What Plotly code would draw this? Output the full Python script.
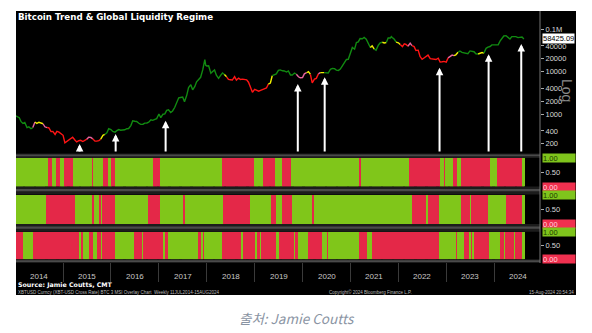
import math
import pandas as pd
import plotly.graph_objects as go

W, H = 592, 333

# ---------------- data ----------------
price_dates = [
    "2014-01-06","2014-01-15","2014-02-01","2014-02-15","2014-03-01","2014-03-15","2014-04-01","2014-04-15",
    "2014-05-01","2014-05-15","2014-06-01","2014-06-15","2014-07-01","2014-07-15","2014-08-01","2014-08-15",
    "2014-09-01","2014-09-15","2014-10-01","2014-10-15","2014-11-01","2014-11-15","2014-12-01","2014-12-15",
    "2015-01-01","2015-01-15","2015-02-01","2015-02-15","2015-03-01","2015-03-15","2015-04-01","2015-04-15",
    "2015-05-01","2015-05-15","2015-06-01","2015-06-15","2015-07-01","2015-07-15","2015-08-01","2015-08-15",
    "2015-09-01","2015-09-15","2015-10-01","2015-10-15","2015-11-01","2015-11-15","2015-12-01","2015-12-15",
    "2016-01-01","2016-01-15","2016-02-01","2016-02-15","2016-03-01","2016-03-15","2016-04-01","2016-04-15",
    "2016-05-01","2016-05-15","2016-06-01","2016-06-15","2016-07-01","2016-07-15","2016-08-01","2016-08-15",
    "2016-09-01","2016-09-15","2016-10-01","2016-10-15","2016-11-01","2016-11-15","2016-12-01","2016-12-15",
    "2017-01-01","2017-01-15","2017-02-01","2017-02-15","2017-03-01","2017-03-15","2017-04-01","2017-04-15",
    "2017-05-01","2017-05-15","2017-06-01","2017-06-15","2017-07-01","2017-07-15","2017-08-01","2017-08-15",
    "2017-09-01","2017-09-15","2017-10-01","2017-10-15","2017-11-01","2017-11-15","2017-12-01","2017-12-17",
    "2017-12-24",
    "2018-01-01","2018-01-15","2018-02-01","2018-02-15","2018-03-01","2018-03-15","2018-04-01","2018-04-15",
    "2018-05-01","2018-05-15","2018-06-01","2018-06-15","2018-07-01","2018-07-15","2018-08-01","2018-08-15",
    "2018-09-01","2018-09-15","2018-10-01","2018-10-15","2018-11-01","2018-11-15","2018-12-01","2018-12-15",
    "2019-01-01","2019-01-15","2019-02-01","2019-02-15","2019-03-01","2019-03-15","2019-04-01","2019-04-15",
    "2019-05-01","2019-05-15","2019-06-01","2019-06-15","2019-07-01","2019-07-15","2019-08-01","2019-08-15",
    "2019-09-01","2019-09-15","2019-10-01","2019-10-15","2019-11-01","2019-11-15","2019-12-01","2019-12-15",
    "2020-01-01","2020-01-15","2020-02-01","2020-02-15","2020-03-01","2020-03-15","2020-04-01","2020-04-15",
    "2020-05-01","2020-05-15","2020-06-01","2020-06-15","2020-07-01","2020-07-15","2020-08-01","2020-08-15",
    "2020-09-01","2020-09-15","2020-10-01","2020-10-15","2020-11-01","2020-11-15","2020-12-01","2020-12-15",
    "2021-01-01","2021-01-15","2021-02-01","2021-02-15","2021-03-01","2021-03-15","2021-04-01","2021-04-15",
    "2021-05-01","2021-05-15","2021-06-01","2021-06-15","2021-07-01","2021-07-15","2021-08-01","2021-08-15",
    "2021-09-01","2021-09-15","2021-10-01","2021-10-15","2021-11-01","2021-11-08","2021-11-15","2021-12-01",
    "2021-12-15",
    "2022-01-01","2022-01-15","2022-02-01","2022-02-15","2022-03-01","2022-03-15","2022-04-01","2022-04-15",
    "2022-05-01","2022-05-15","2022-06-01","2022-06-15","2022-07-01","2022-07-15","2022-08-01","2022-08-15",
    "2022-09-01","2022-09-15","2022-10-01","2022-10-15","2022-11-01","2022-11-15","2022-12-01","2022-12-15",
    "2023-01-01","2023-01-15","2023-02-01","2023-02-15","2023-03-01","2023-03-15","2023-04-01","2023-04-15",
    "2023-05-01","2023-05-15","2023-06-01","2023-06-15","2023-07-01","2023-07-15","2023-08-01","2023-08-15",
    "2023-09-01","2023-09-15","2023-10-01","2023-10-15","2023-11-01","2023-11-15","2023-12-01","2023-12-15",
    "2024-01-01","2024-01-15","2024-02-01","2024-02-15","2024-03-01","2024-03-15","2024-04-01","2024-04-15",
    "2024-05-01","2024-05-15","2024-06-01","2024-06-15","2024-07-01","2024-07-15","2024-08-01","2024-08-15",
]
price_values = [
    900, 870, 820, 660, 600, 630, 480, 500, 450, 480, 650, 600, 640, 620, 590, 500,
    480, 470, 385, 390, 330, 390, 375, 350,
    315, 210, 230, 240, 260, 285, 245, 220, 235, 240, 225, 240, 255, 285, 280, 260,
    230, 230, 237, 255, 315, 330, 360, 450,
    430, 390, 375, 405, 430, 415, 415, 425, 450, 455, 535, 690, 675, 665, 605, 570,
    575, 610, 615, 640, 730, 710, 750, 780,
    1000, 820, 990, 1010, 1220, 1250, 1080, 1180, 1420, 1750, 2400, 2450, 2500, 1950, 2750, 4200,
    4900, 3700, 4400, 5700, 6700, 7300, 10900, 19100,
    14000,
    13500, 13600, 9100, 10000, 10900, 8200, 6900, 8000, 9200, 8500, 7500, 6500, 6400, 6300, 7600, 6300,
    7000, 6500, 6600, 6600, 6350, 5600, 4000, 3250,
    3800, 3600, 3450, 3600, 3820, 3900, 4100, 5050, 5350, 7950, 8550, 8800, 10600, 10900, 10400, 10300,
    9700, 10300, 8300, 8300, 9200, 8600, 7500, 7100,
    7200, 8800, 9350, 9900, 8600, 5400, 6600, 6900, 8800, 9400, 9500, 9400, 9150, 9200, 11300, 11800,
    11700, 10800, 10600, 11400, 13800, 16000, 19200, 19400,
    29300, 36800, 33500, 47900, 49600, 59400, 58800, 63200, 57800, 46400, 36700, 40100, 33600, 31800, 41600, 47100,
    48800, 47100, 48200, 61500, 61300, 66000, 63000, 57200,
    48900,
    47300, 43100, 38500, 44500, 43200, 39300, 46300, 40500, 38500, 31300, 31800, 22500, 19300, 20800, 23300, 24300,
    20000, 19700, 19300, 19100, 20500, 16700, 17000, 17300,
    16600, 20900, 23100, 24300, 23600, 24700, 28400, 30400, 28100, 27200, 27200, 26300, 30500, 30300, 29200, 26100,
    25800, 26500, 27900, 27100, 35100, 37400, 38700, 42300,
    42600, 41700, 42600, 52000, 62400, 68400, 69700, 63400, 58300, 66200, 67700, 66200, 62700, 64700, 64600, 58425.09,
]

# trend colour of the price line (G green, R red, Y yellow, P pink) from each date on
trend_dates = ["2014-01-01","2014-05-08","2014-06-01","2014-08-01","2014-08-31","2015-07-01","2015-08-09",
               "2015-10-09","2015-11-08","2018-05-03","2018-05-27","2019-04-12","2019-05-13","2019-11-03",
               "2020-01-19","2020-02-19","2020-04-20","2020-05-12","2020-06-05","2021-05-28","2021-06-28",
               "2021-08-20","2021-09-21","2021-12-13","2022-01-13","2022-03-14","2022-04-15","2023-01-06",
               "2023-02-21","2023-03-23","2023-08-30","2023-10-07"]
trend_codes = ["G","P","Y","P","R","P","R","Y","G","Y","R","Y","G","P","Y","R","P","Y","G","Y","G",
               "Y","G","Y","R","P","R","P","Y","G","Y","G"]

# liquidity regimes (1 = green, 0 = red), state from each start date on
regime_end = "2024-08-19"
regime1_starts = ["2014-01-06","2014-09-07","2014-10-08","2014-11-07","2014-12-15","2015-01-08","2015-03-17",
                  "2015-08-09","2015-08-24","2015-11-01","2015-12-08","2016-01-01","2016-01-31","2016-11-15",
                  "2017-01-16","2018-04-25","2018-12-26","2019-03-05","2019-06-05","2019-08-04","2019-10-04",
                  "2021-03-06","2021-03-22","2022-03-23","2022-11-21","2022-12-14","2022-12-22","2023-02-21",
                  "2023-03-23","2023-04-22","2023-11-29","2024-01-29","2024-07-31"]
regime1_states = [1,0,1,0,1,0,1,0,1,0,1,0,1,0,1,0,1,0,1,0,1,0,1,0,1,0,1,0,1,0,1,0,1]

regime2_starts = ["2014-01-06","2014-08-23","2015-04-01","2015-08-17","2015-08-26","2015-10-01","2015-10-16",
                  "2015-10-24","2016-01-31","2016-07-16","2016-07-24","2016-10-16","2017-01-16","2017-07-09",
                  "2017-07-24","2018-05-03","2018-12-03","2019-05-13","2019-06-12","2019-08-04","2019-10-12",
                  "2020-03-13","2020-03-28","2022-04-15","2022-07-30","2022-08-22","2022-11-13","2023-04-30",
                  "2023-06-30","2023-07-07","2023-11-14","2024-04-07","2024-07-31"]
regime2_states = [1,0,1,0,1,0,1,0,1,0,1,0,1,0,1,0,1,0,1,0,1,0,1,0,1,0,1,0,1,0,1,0,1]

regime3_starts = ["2014-01-06","2014-03-01","2014-05-16","2015-05-01","2015-05-24","2015-06-08","2015-07-17",
                  "2015-08-24","2015-09-16","2015-10-16","2015-10-24","2016-02-08","2016-06-24","2016-08-24",
                  "2016-09-01","2017-01-31","2017-02-15","2017-03-10","2017-10-25","2017-11-17","2017-12-02",
                  "2017-12-17","2018-04-25","2018-09-18","2018-10-03","2019-01-03","2019-01-18","2019-02-10",
                  "2019-02-25","2019-06-12","2019-07-05","2019-10-27","2019-11-11","2019-11-26","2020-02-11",
                  "2020-05-27","2020-07-12","2020-07-20","2021-03-06","2021-05-06","2021-06-13","2022-11-13",
                  "2023-03-16","2023-03-23","2023-05-16","2023-06-23","2023-07-08","2023-07-15","2023-08-07",
                  "2023-11-22","2024-02-14","2024-03-16","2024-03-23","2024-05-31","2024-06-07","2024-07-31"]
regime3_states = [0,1,0,1,0,1,0,1,0,1,0,1,0,1,0,1,0,1,0,1,0,1,0,1,0,1,0,1,0,1,0,1,0,1,0,1,0,1,0,1,0,1,
                  0,1,0,1,0,1,0,1,0,1,0,1,0,1]

# signal arrows (date, price at arrow tip)
arrow_dates = ["2015-05-07","2016-02-06","2017-02-21","2019-11-26","2020-06-18","2022-11-11","2023-11-20","2024-07-26"]
arrow_tips = [197, 338, 695, 5080, 7310, 12300, 25400, 44400]

last_price_label = "58425.09"
price_tickvals = [200, 400, 1000, 2000, 4000, 10000, 20000, 40000, 100000]
price_ticktext = ["200", "400", "1000", "2000", "4000", "10000", "20000", "40000", "0.1M"]
year_labels = ["2014","2015","2016","2017","2018","2019","2020","2021","2022","2023","2024"]
year_bounds = ["2015-01-01","2016-01-01","2017-01-01","2018-01-01","2019-01-01","2020-01-01",
               "2021-01-01","2022-01-01","2023-01-01","2024-01-01"]

# ---------------- styling ----------------
TREND_COL = {"G": "#118a11", "R": "#ff1414", "Y": "#eeee00", "P": "#e8649e"}
REG_COL = {1: "#80c61a", 0: "#e42848"}
REG_DARK = {1: "#62a000", 0: "#c01430"}
FONT = "Liberation Sans"

def px(x):
    return x / W

def py(y):
    return 1 - y / H

XDOM = [px(16), px(540)]
XRANGE = ["2014-01-07", "2024-12-16"]
Y_MAIN = [py(153.5), py(11)]
Y_P1 = [py(186.5), py(158)]
Y_P2 = [py(224), py(194.5)]
Y_P3 = [py(259.3), py(231.7)]
LOGRANGE = [2.0706, 5.4235]

fig = go.Figure()

# ---- price line, split into coloured runs ----
dts = pd.to_datetime(price_dates)
tdts = pd.to_datetime(trend_dates)
codes = []
for d in dts:
    c = trend_codes[0]
    for td, tc in zip(tdts, trend_codes):
        if td <= d:
            c = tc
    codes.append(c)

i = 0
n = len(price_values)
while i < n:
    j = i
    while j + 1 < n and codes[j + 1] == codes[i]:
        j += 1
    end = min(j + 1, n - 1)
    fig.add_trace(go.Scatter(
        x=price_dates[i:end + 1], y=price_values[i:end + 1], mode="lines",
        line=dict(color=TREND_COL[codes[i]], width=1.4), xaxis="x", yaxis="y",
        hoverinfo="skip", showlegend=False))
    i = j + 1

# ---- regime bars: solid run underlay (darker) + one lighter bar per week on top ----
WEEK_MS = 7 * 24 * 3600 * 1000

def add_regime(starts, states, xa, ya):
    s = pd.to_datetime(starts)
    e = list(s[1:]) + [pd.Timestamp(regime_end)]
    widths = [(b - a).total_seconds() * 1000 for a, b in zip(s, e)]
    fig.add_trace(go.Bar(
        x=starts, y=[1] * len(starts), base=0, width=widths, offset=0,
        marker=dict(color=[REG_DARK[v] for v in states], line=dict(width=0)),
        xaxis=xa, yaxis=ya, hoverinfo="skip", showlegend=False))
    weeks = pd.date_range(s[0], pd.Timestamp(regime_end) - pd.Timedelta(days=7), freq="7D")
    wstates = []
    for w in weeks:
        st = states[0]
        for a, v in zip(s, states):
            if a <= w:
                st = v
        wstates.append(st)
    fig.add_trace(go.Bar(
        x=[w.strftime("%Y-%m-%d") for w in weeks], y=[1] * len(weeks), base=0,
        width=WEEK_MS * 0.7, offset=0,
        marker=dict(color=[REG_COL[v] for v in wstates], line=dict(width=0)),
        xaxis=xa, yaxis=ya, hoverinfo="skip", showlegend=False))

add_regime(regime1_starts, regime1_states, "x2", "y2")
add_regime(regime2_starts, regime2_states, "x3", "y3")
add_regime(regime3_starts, regime3_states, "x4", "y4")

# ---------------- layout ----------------
common_x = dict(domain=XDOM, range=XRANGE, type="date", showgrid=False, zeroline=False,
                showticklabels=False, ticks="", showline=False)
tickfont = dict(family=FONT, size=7.5, color="#d8d8d8")
reg_y = dict(range=[0, 1], side="right", tickvals=[0.5], ticktext=["0.50"], ticks="outside",
             ticklen=3, tickcolor="#aaaaaa", tickfont=tickfont, showgrid=False, zeroline=False,
             showline=False, fixedrange=True)

layout = dict(
    width=W, height=H, margin=dict(l=0, r=0, t=0, b=0),
    paper_bgcolor="white", plot_bgcolor="black", showlegend=False, bargap=0, barmode="overlay",
    xaxis=dict(**common_x, anchor="y"),
    xaxis2=dict(**common_x, anchor="y2", matches="x"),
    xaxis3=dict(**common_x, anchor="y3", matches="x"),
    xaxis4=dict(domain=XDOM, range=XRANGE, type="date", showgrid=False, zeroline=False, matches="x",
                anchor="y4", tickmode="array", tickvals=year_bounds, ticktext=[""] * len(year_bounds),
                ticks="outside", ticklen=22, tickcolor="#3a3a3a", tickwidth=1, showline=False),
    yaxis=dict(domain=Y_MAIN, type="log", range=LOGRANGE, side="right", anchor="x",
               tickvals=price_tickvals, ticktext=price_ticktext, ticks="outside", ticklen=3,
               tickcolor="#aaaaaa", tickfont=tickfont, showgrid=False, zeroline=False, showline=False),
    yaxis2=dict(domain=Y_P1, anchor="x2", **reg_y),
    yaxis3=dict(domain=Y_P2, anchor="x3", **reg_y),
    yaxis4=dict(domain=Y_P3, anchor="x4", **reg_y),
)
fig.update_layout(**layout)

shapes = []
shapes.append(dict(type="rect", xref="paper", yref="paper", x0=px(16), x1=px(576), y0=py(295), y1=py(11),
                   fillcolor="black", line=dict(width=0), layer="below"))
for top, bot, ltop, lbot in [(153.5, 158, 154.5, 156.3), (186.5, 194.5, 189, 191.2),
                             (224, 231.7, 226.5, 228.7), (259.3, 263, 260.3, 262)]:
    shapes.append(dict(type="rect", xref="paper", yref="paper", x0=px(16), x1=px(540), y0=py(bot), y1=py(top),
                       fillcolor="#1c1c1c", line=dict(width=0), layer="above"))
    shapes.append(dict(type="rect", xref="paper", yref="paper", x0=px(16), x1=px(540), y0=py(lbot), y1=py(ltop),
                       fillcolor="#4a4a4a", line=dict(width=0), layer="above"))
shapes.append(dict(type="line", xref="paper", yref="paper", x0=px(540), x1=px(540), y0=py(263), y1=py(11),
                   line=dict(color="#777777", width=1), layer="above"))

annotations = []
annotations.append(dict(text="<b>Bitcoin Trend & Global Liquidity Regime</b>", xref="paper", yref="paper",
                        x=px(16), y=py(17), xanchor="left", yanchor="middle", showarrow=False,
                        font=dict(family="DejaVu Sans", size=8.7, color="white")))
annotations.append(dict(text=last_price_label, xref="paper", yref="y", x=px(541.5),
                        y=math.log10(price_values[-1]), xanchor="left", yanchor="middle", showarrow=False,
                        bgcolor="white", borderpad=0, font=dict(family=FONT, size=7.5, color="black")))
annotations.append(dict(text="Log", xref="paper", yref="paper", x=px(567), y=py(90), textangle=90,
                        showarrow=False, xanchor="center", yanchor="middle",
                        font=dict(family=FONT, size=14, color="#8a8a8a")))
for ya in ["y2", "y3", "y4"]:
    annotations.append(dict(text="1.00", xref="paper", yref=ya, x=px(541.5), y=1, xanchor="left",
                            yanchor="middle", showarrow=False, bgcolor="#7fc41c", width=32, height=8,
                            align="left", borderpad=0, font=dict(family=FONT, size=7.5, color="#1d3a00")))
    annotations.append(dict(text="0.00", xref="paper", yref=ya, x=px(541.5), y=0, xanchor="left",
                            yanchor="middle", showarrow=False, bgcolor="#f0304f", width=32, height=8,
                            align="left", borderpad=0, font=dict(family=FONT, size=7.5, color="#ffd6de")))
for lab in year_labels:
    annotations.append(dict(text=lab, xref="x4", yref="paper", x=f"{lab}-07-02", y=py(276),
                            showarrow=False, xanchor="center", yanchor="middle",
                            font=dict(family=FONT, size=8, color="#c8c8c8")))
for d, tip in zip(arrow_dates, arrow_tips):
    annotations.append(dict(x=d, y=math.log10(tip), xref="x", yref="y", ax=d, ay=LOGRANGE[0] + 0.01,
                            axref="x", ayref="y", showarrow=True, arrowhead=2, arrowsize=0.75,
                            arrowwidth=2, arrowcolor="white", standoff=0, text=""))
annotations.append(dict(text="<b>Source: Jamie Coutts, CMT</b>", xref="paper", yref="paper", x=px(16), y=py(285),
                        xanchor="left", yanchor="middle", showarrow=False,
                        font=dict(family="DejaVu Sans", size=6.3, color="white")))
annotations.append(dict(text="XBTUSD Curncy (XBT-USD Cross Rate) BTC 3 MSI Overlay Chart  Weekly 11JUL2014-15AUG2024",
                        xref="paper", yref="paper", x=px(16), y=py(292), xanchor="left", yanchor="middle",
                        showarrow=False, font=dict(family=FONT, size=4.5, color="#bbbbbb")))
annotations.append(dict(text="Copyright© 2024 Bloomberg Finance L.P.", xref="paper", yref="paper", x=px(370.5),
                        y=py(292), xanchor="center", yanchor="middle", showarrow=False,
                        font=dict(family=FONT, size=4.5, color="#bbbbbb")))
annotations.append(dict(text="15-Aug-2024 20:54:34", xref="paper", yref="paper", x=px(576), y=py(292),
                        xanchor="right", yanchor="middle", showarrow=False,
                        font=dict(family=FONT, size=4.5, color="#bbbbbb")))
annotations.append(dict(text="<i>출처: Jamie Coutts</i>", xref="paper", yref="paper", x=px(296.5), y=py(318),
                        xanchor="center", yanchor="middle", showarrow=False,
                        font=dict(family="Noto Sans CJK KR, Noto Sans", size=13.5, color="#8a94a3")))

fig.update_layout(shapes=shapes, annotations=annotations)
fig.write_html("out.html")
